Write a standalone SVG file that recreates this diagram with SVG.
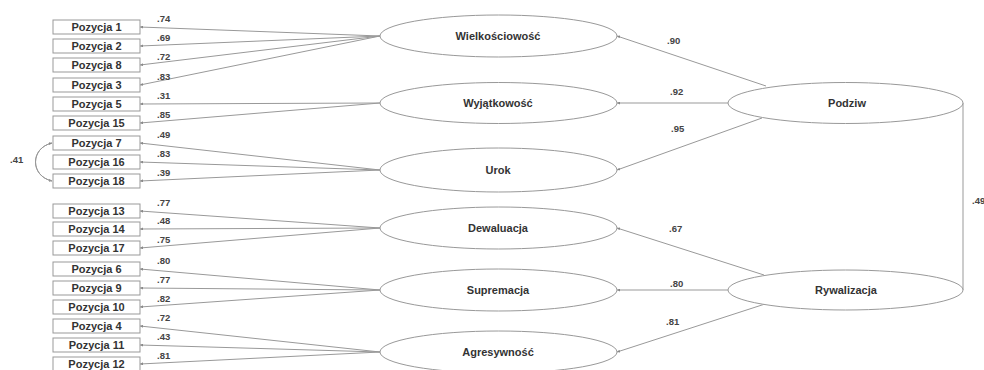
<svg xmlns="http://www.w3.org/2000/svg" width="984" height="370" viewBox="0 0 984 370">
<defs>
<marker id="ah" viewBox="0 0 6 6" refX="6" refY="3" markerWidth="3" markerHeight="3" orient="auto" markerUnits="userSpaceOnUse">
<path d="M0,0 L6,3 L0,6 z" fill="#888"/>
</marker>
</defs>
<style>
.box{fill:#fff;stroke:#999;stroke-width:1}
.lat{fill:#fff;stroke:#999;stroke-width:1}
.bt{font-family:"Liberation Sans",Arial,sans-serif;font-size:11px;font-weight:bold;fill:#333;text-anchor:middle}
.lt{font-family:"Liberation Sans",Arial,sans-serif;font-size:11px;font-weight:bold;fill:#333;text-anchor:middle}
.num{font-family:"Liberation Sans",Arial,sans-serif;font-size:9.5px;font-weight:bold;fill:#444}
.ln{fill:none;stroke:#999;stroke-width:1;marker-end:url(#ah)}
.ln2{fill:none;stroke:#999;stroke-width:1}
</style>
<rect width="984" height="370" fill="#fff"/>
<g id="connectors">
<path class="ln" d="M380,36 L140,27"/>
<path class="ln" d="M380,36 L140,46"/>
<path class="ln" d="M380,36 L140,65"/>
<path class="ln" d="M380,36 L140,85"/>
<path class="ln" d="M380,103 L140,104"/>
<path class="ln" d="M380,103 L140,123"/>
<path class="ln" d="M380,170 L140,143"/>
<path class="ln" d="M380,170 L140,162"/>
<path class="ln" d="M380,170 L140,181"/>
<path class="ln" d="M380,228 L140,211"/>
<path class="ln" d="M380,228 L140,229"/>
<path class="ln" d="M380,228 L140,248"/>
<path class="ln" d="M380,290 L140,269"/>
<path class="ln" d="M380,290 L140,288"/>
<path class="ln" d="M380,290 L140,307"/>
<path class="ln" d="M380,352 L140,326"/>
<path class="ln" d="M380,352 L140,345"/>
<path class="ln" d="M380,352 L140,364"/>
<path class="ln" d="M766,86 L617,36"/>
<path class="ln" d="M728,103 L617,103"/>
<path class="ln" d="M762,118 L617,170"/>
<path class="ln" d="M764,275 L617,228"/>
<path class="ln" d="M728,290 L617,290"/>
<path class="ln" d="M765,304 L617,352"/>
<path class="ln2" d="M963,103 L963,290"/>
<path class="ln" d="M52,143 C30,148 30,176 52,181"/>
<path class="ln" d="M52,181 C30,176 30,148 52,143"/>
</g>
<g id="loadings">
<text class="num" x="157" y="22">.74</text>
<text class="num" x="157" y="41">.69</text>
<text class="num" x="157" y="60">.72</text>
<text class="num" x="157" y="80">.83</text>
<text class="num" x="157" y="99">.31</text>
<text class="num" x="157" y="118">.85</text>
<text class="num" x="157" y="138">.49</text>
<text class="num" x="157" y="157">.83</text>
<text class="num" x="157" y="176">.39</text>
<text class="num" x="157" y="206">.77</text>
<text class="num" x="157" y="224">.48</text>
<text class="num" x="157" y="243">.75</text>
<text class="num" x="157" y="264">.80</text>
<text class="num" x="157" y="283">.77</text>
<text class="num" x="157" y="302">.82</text>
<text class="num" x="157" y="321">.72</text>
<text class="num" x="157" y="340">.43</text>
<text class="num" x="157" y="359">.81</text>
<text class="num" x="10" y="163">.41</text>
<text class="num" x="667" y="44">.90</text>
<text class="num" x="670" y="95">.92</text>
<text class="num" x="671" y="132">.95</text>
<text class="num" x="669" y="232">.67</text>
<text class="num" x="670" y="287">.80</text>
<text class="num" x="666" y="325">.81</text>
<text class="num" x="972" y="204">.49</text>
</g>
<g id="p1"><rect class="box" x="53" y="20" width="87" height="14"/><text class="bt" x="96.5" y="31">Pozycja 1</text></g>
<g id="p2"><rect class="box" x="53" y="39" width="87" height="14"/><text class="bt" x="96.5" y="50">Pozycja 2</text></g>
<g id="p8"><rect class="box" x="53" y="58" width="87" height="14"/><text class="bt" x="96.5" y="69">Pozycja 8</text></g>
<g id="p3"><rect class="box" x="53" y="78" width="87" height="14"/><text class="bt" x="96.5" y="89">Pozycja 3</text></g>
<g id="p5"><rect class="box" x="53" y="97" width="87" height="14"/><text class="bt" x="96.5" y="108">Pozycja 5</text></g>
<g id="p15"><rect class="box" x="53" y="116" width="87" height="14"/><text class="bt" x="96.5" y="127">Pozycja 15</text></g>
<g id="p7"><rect class="box" x="53" y="136" width="87" height="14"/><text class="bt" x="96.5" y="147">Pozycja 7</text></g>
<g id="p16"><rect class="box" x="53" y="155" width="87" height="14"/><text class="bt" x="96.5" y="166">Pozycja 16</text></g>
<g id="p18"><rect class="box" x="53" y="174" width="87" height="14"/><text class="bt" x="96.5" y="185">Pozycja 18</text></g>
<g id="p13"><rect class="box" x="53" y="204" width="87" height="14"/><text class="bt" x="96.5" y="215">Pozycja 13</text></g>
<g id="p14"><rect class="box" x="53" y="222" width="87" height="14"/><text class="bt" x="96.5" y="233">Pozycja 14</text></g>
<g id="p17"><rect class="box" x="53" y="241" width="87" height="14"/><text class="bt" x="96.5" y="252">Pozycja 17</text></g>
<g id="p6"><rect class="box" x="53" y="262" width="87" height="14"/><text class="bt" x="96.5" y="273">Pozycja 6</text></g>
<g id="p9"><rect class="box" x="53" y="281" width="87" height="14"/><text class="bt" x="96.5" y="292">Pozycja 9</text></g>
<g id="p10"><rect class="box" x="53" y="300" width="87" height="14"/><text class="bt" x="96.5" y="311">Pozycja 10</text></g>
<g id="p4"><rect class="box" x="53" y="319" width="87" height="14"/><text class="bt" x="96.5" y="330">Pozycja 4</text></g>
<g id="p11"><rect class="box" x="53" y="338" width="87" height="14"/><text class="bt" x="96.5" y="349">Pozycja 11</text></g>
<g id="p12"><rect class="box" x="53" y="357" width="87" height="14"/><text class="bt" x="96.5" y="368">Pozycja 12</text></g>
<g id="wielkosciowosc"><ellipse class="lat" cx="498.5" cy="36" rx="118.5" ry="21"/><text class="lt" x="498" y="40">Wielkościowość</text></g>
<g id="wyjatkowosc"><ellipse class="lat" cx="498.5" cy="103" rx="118.5" ry="20.5"/><text class="lt" x="498" y="107">Wyjątkowość</text></g>
<g id="urok"><ellipse class="lat" cx="498.5" cy="170" rx="118.5" ry="22"/><text class="lt" x="498" y="174">Urok</text></g>
<g id="dewaluacja"><ellipse class="lat" cx="498.5" cy="228" rx="118.5" ry="21"/><text class="lt" x="498" y="232">Dewaluacja</text></g>
<g id="supremacja"><ellipse class="lat" cx="498.5" cy="290" rx="118.5" ry="21"/><text class="lt" x="498" y="294">Supremacja</text></g>
<g id="agresywnosc"><ellipse class="lat" cx="498.5" cy="352" rx="118.5" ry="21"/><text class="lt" x="498" y="356">Agresywność</text></g>
<g id="podziw"><ellipse class="lat" cx="845.5" cy="103" rx="117.5" ry="20.5"/><text class="lt" x="847" y="107">Podziw</text></g>
<g id="rywalizacja"><ellipse class="lat" cx="845.5" cy="290" rx="117.5" ry="20"/><text class="lt" x="846" y="294">Rywalizacja</text></g>
</svg>
